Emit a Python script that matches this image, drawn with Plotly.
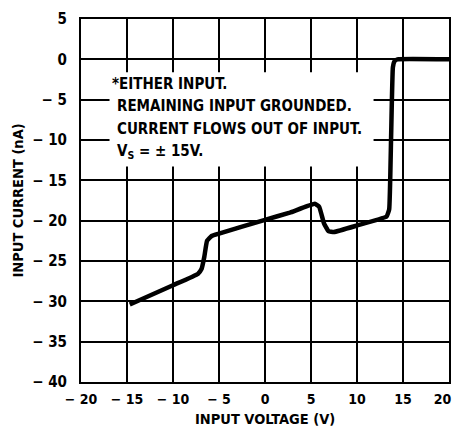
import plotly.graph_objects as go

# input voltage (V) vs input current (nA)
volts = [-14.7, -10, -7.3, -6.9, -6.6, -6.3, -5.8, -5, 0, 2.7, 5.4, 5.9, 6.4, 6.9, 7.5,
         10, 13.2, 13.5, 13.7, 13.9, 14.1, 14.4, 20]
current = [-30.4, -28.0, -26.6, -26.0, -24.5, -22.5, -21.9, -21.6, -19.9, -19.0, -17.9,
           -18.3, -20.3, -21.3, -21.4, -20.6, -19.5, -18.6, -10, -1, -0.2, 0, 0]

x_ticks = [-20, -15, -10, -5, 0, 5, 10, 15, 20]
y_ticks = [5, 0, -5, -10, -15, -20, -25, -30, -35, -40]

note_lines = ["*EITHER INPUT.",
              "REMAINING INPUT GROUNDED.",
              "CURRENT FLOWS OUT OF INPUT.",
              "V<sub>S</sub> = ± 15V."]

def lbl(v):
    return "− " + str(abs(v)) if v < 0 else str(v)

x_labels = [lbl(v) for v in x_ticks]
x_labels[-1] = x_labels[-1] + "\u00a0" * 3   # nudge the last label left so it stays on the page

font = "DejaVu Sans Condensed, Liberation Sans, sans-serif"

fig = go.Figure()
fig.add_trace(go.Scatter(x=volts, y=current, mode="lines",
                         line=dict(color="black", width=4.5, shape="spline", smoothing=0.3),
                         hoverinfo="skip"))

# white box behind the note hides the grid
fig.add_shape(type="rect", x0=-16.9, x1=11.8, y0=-13.3, y1=-1.6,
              fillcolor="white", line_width=0, layer="between")

for i, t in enumerate(note_lines):
    fig.add_annotation(x=-16.8 if i == 0 else -16.3, y=-3.05 - i * 2.79, text=t,
                       xanchor="left", yanchor="middle", showarrow=False,
                       font=dict(family=font, size=15, color="black", weight="bold"))

# axis titles as annotations so the margins stay fixed
fig.add_annotation(x=0.5, y=0, xref="paper", yref="paper", yshift=-37,
                   text="INPUT VOLTAGE (V)", showarrow=False, yanchor="middle",
                   font=dict(family=font, size=14.5, color="black", weight="bold"))
fig.add_annotation(x=0, y=0.5, xref="paper", yref="paper", xshift=-64, textangle=-90,
                   text="INPUT CURRENT (nA)", showarrow=False, xanchor="center",
                   font=dict(family=font, size=14.5, color="black", weight="bold"))

axis = dict(showgrid=True, gridcolor="black", gridwidth=1.5, zeroline=False,
            showline=True, linecolor="black", linewidth=2, mirror=True,
            ticks="outside", tickcolor="rgba(0,0,0,0)", automargin=False,
            ticklabeloverflow="allow")

fig.update_xaxes(range=[-20, 20], tickvals=x_ticks, ticktext=x_labels,
                 ticklen=3, tickfont=dict(family=font, size=14, color="black", weight="bold"),
                 **axis)
fig.update_yaxes(range=[-40, 5], tickvals=y_ticks, ticktext=[lbl(v) for v in y_ticks],
                 ticklen=9, tickfont=dict(family=font, size=15, color="black", weight="bold"),
                 **axis)

# the page body adds an 8px margin, so keep the figure inside the window
fig.update_layout(width=452, height=419, margin=dict(l=73, r=11, t=11, b=45),
                  plot_bgcolor="white", paper_bgcolor="white", showlegend=False)

fig.write_html("out.html")
